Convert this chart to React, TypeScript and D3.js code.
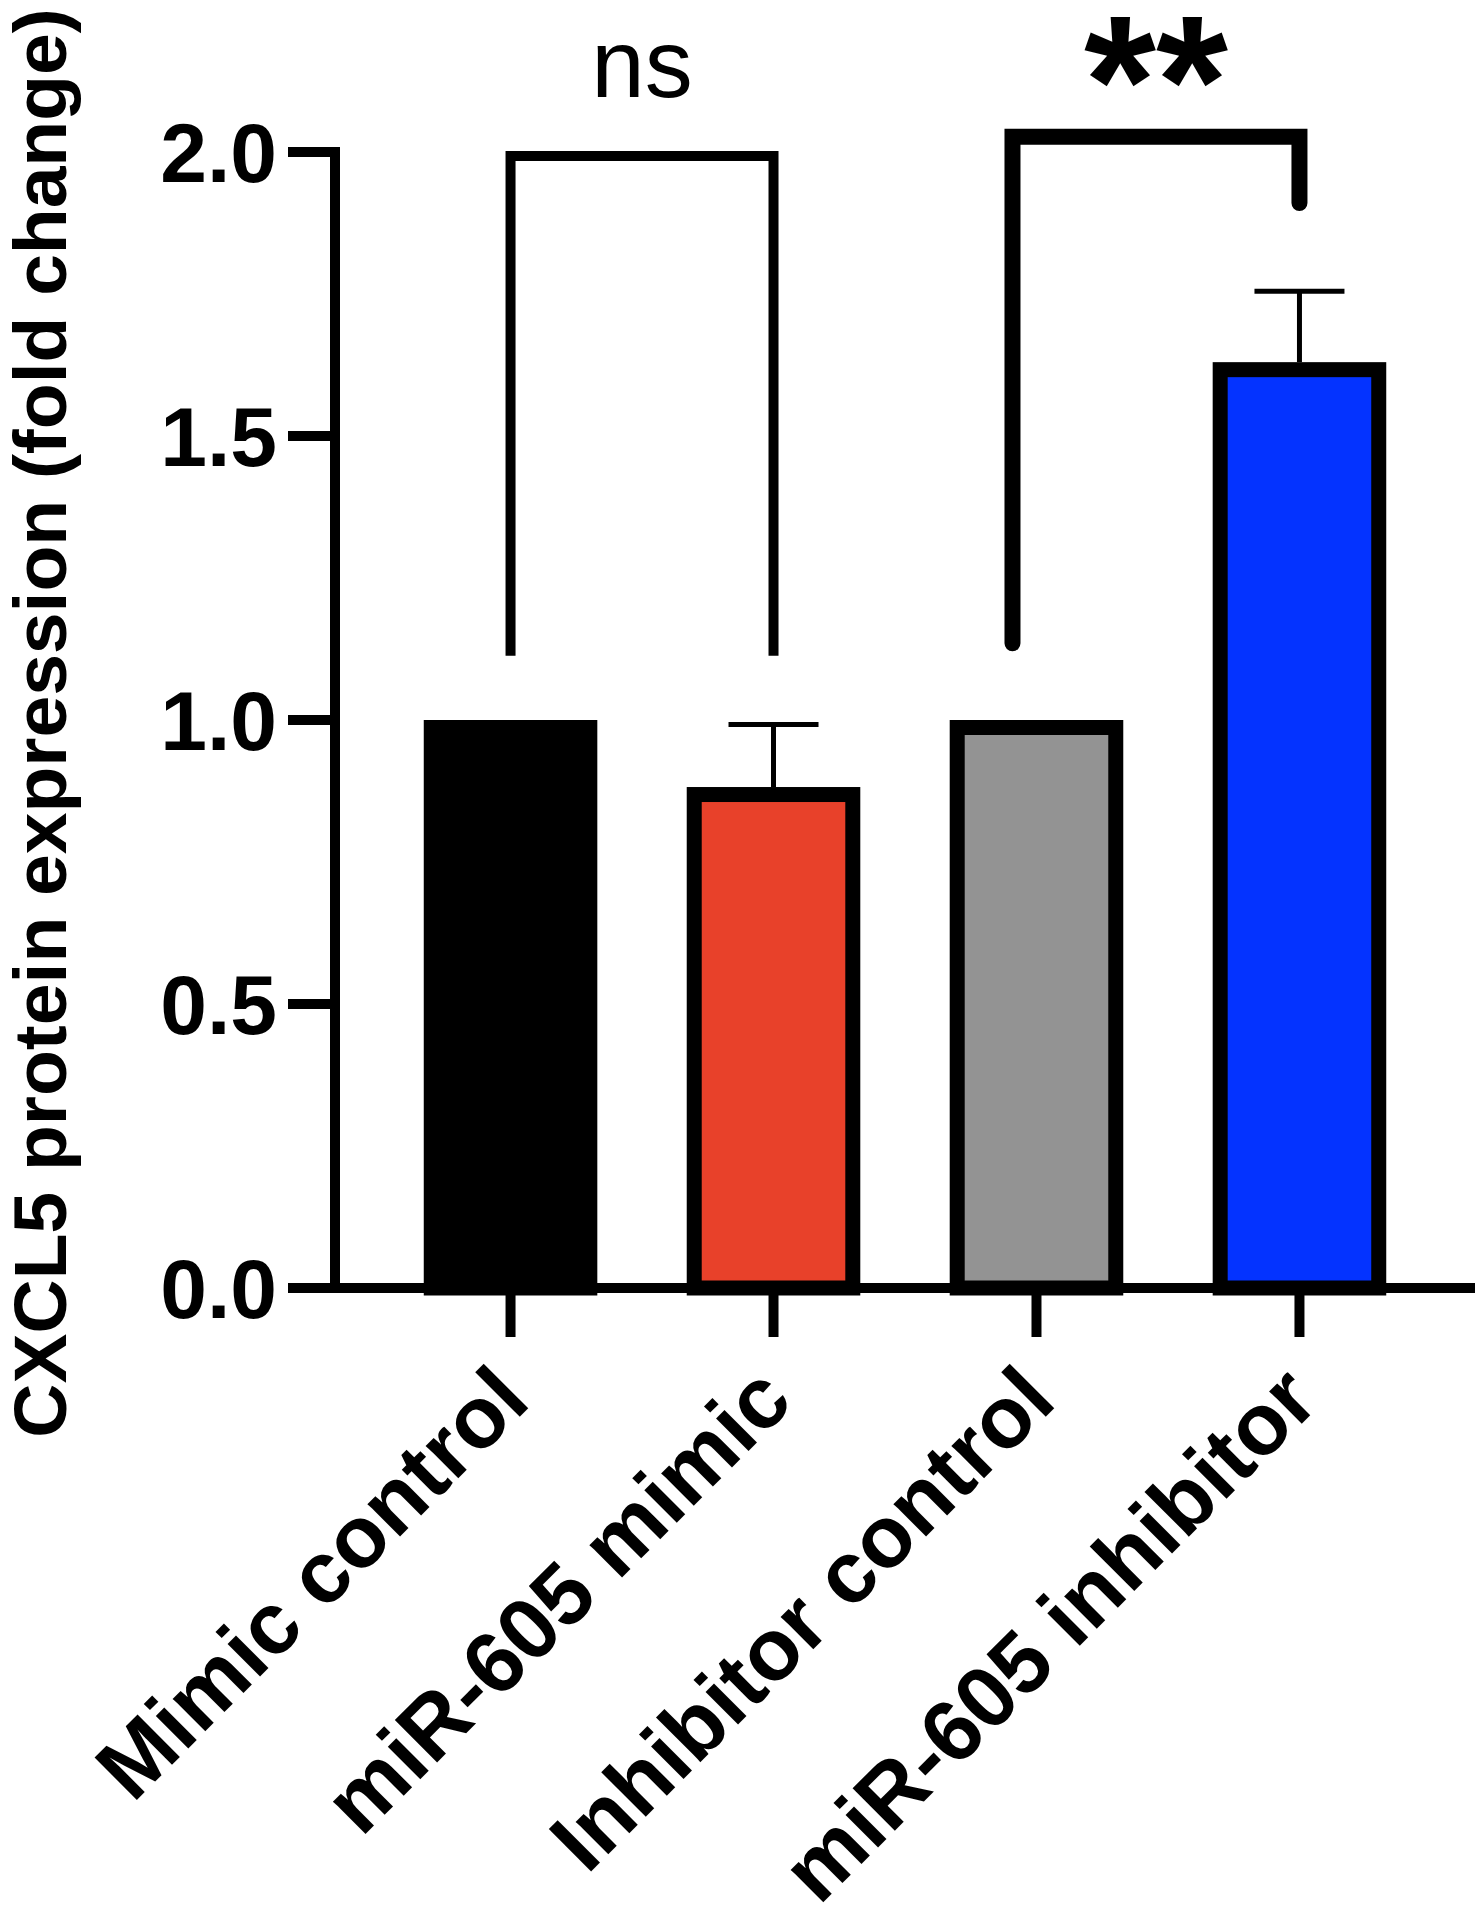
import * as d3 from 'd3';

const categories = ['Mimic control', 'miR-605 mimic', 'Inhibitor control', 'miR-605 inhibitor'];
const means = [1.0, 0.882, 1.0, 1.63];
const errors = [0, 0.11, 0, 0.125];
const barColors = ['#000000', '#E8412A', '#939393', '#0433FF'];
const yTicks = [0, 0.5, 1.0, 1.5, 2.0];
const yTitle = 'CXCL5 protein expression (fold change)';

// significance comparisons: [from, to], label, bracket top, left/right leg ends (data units)
const sigPairs = [[0, 1], [2, 3]];
const sigLabels = ['ns', '**'];
const sigTops = [1.993, 2.027];
const sigLegEnds = [[1.113, 1.113], [1.135, 1.91]];

const FONT = '"Liberation Sans", Arial, Helvetica, sans-serif';

export default function App() {
  const width = 1484;
  const height = 1920;
  const axisX = 335;
  const axisRight = 1475;

  const y = d3.scaleLinear().domain([0, 2]).range([1288, 152]);
  const x = d3
    .scaleBand<string>()
    .domain(categories)
    .range([axisX, axisRight])
    .paddingInner(0.34)
    .paddingOuter(0.3375);

  const bw = x.bandwidth();
  const border = 15;
  const y0 = y(0);

  return (
    <div style={{ position: 'absolute', left: 0, top: 0 }}>
      <svg width={width} height={height} style={{ display: 'block', background: '#fff' }} fontFamily={FONT}>
        {/* bars, border drawn inside the bar outline */}
        {categories.map((c, i) => {
          const x0 = x(c) ?? 0;
          const top = y(means[i]);
          return (
            <rect
              key={c}
              x={x0 + border / 2}
              y={top + border / 2}
              width={bw - border}
              height={y0 - top - border / 2}
              fill={barColors[i]}
              stroke="#000"
              strokeWidth={border}
            />
          );
        })}

        {/* error bars (upper only) */}
        {categories.map((c, i) => {
          if (!errors[i]) return null;
          const cx = (x(c) ?? 0) + bw / 2;
          const top = y(means[i]);
          const et = y(means[i] + errors[i]);
          return (
            <g key={`err-${c}`} stroke="#000" strokeWidth={5}>
              <line x1={cx} x2={cx} y1={top} y2={et} />
              <line x1={cx - 45} x2={cx + 45} y1={et} y2={et} />
            </g>
          );
        })}

        {/* y axis */}
        <line x1={axisX} x2={axisX} y1={y(2)} y2={y0} stroke="#000" strokeWidth={10} strokeLinecap="square" />
        {yTicks.map((t) => (
          <g key={`yt-${t}`}>
            <line x1={288} x2={axisX} y1={y(t)} y2={y(t)} stroke="#000" strokeWidth={10} />
            <text
              x={277}
              y={y(t)}
              dy="0.36em"
              textAnchor="end"
              fontSize={84}
              fontWeight="bold"
              fill="#000"
            >
              {t.toFixed(1)}
            </text>
          </g>
        ))}

        {/* x axis */}
        <line x1={axisX} x2={axisRight} y1={y0} y2={y0} stroke="#000" strokeWidth={10} />
        {categories.map((c) => {
          const cx = (x(c) ?? 0) + bw / 2;
          return (
            <g key={`xt-${c}`}>
              <line x1={cx} x2={cx} y1={y0} y2={y0 + 49} stroke="#000" strokeWidth={10} />
              <text
                transform={`translate(${cx + 22},${1404}) rotate(-45)`}
                textAnchor="end"
                fontSize={87}
                fontWeight="bold"
                fill="#000"
              >
                {c}
              </text>
            </g>
          );
        })}

        {/* y title */}
        <text
          transform={`translate(66,723) rotate(-90)`}
          textAnchor="middle"
          fontSize={75}
          fontWeight="bold"
          fill="#000"
        >
          {yTitle}
        </text>

        {/* significance brackets */}
        {sigPairs.map(([a, b], i) => {
          const xa = (x(categories[a]) ?? 0) + bw / 2 - (i === 1 ? 24 : 0);
          const xb = (x(categories[b]) ?? 0) + bw / 2;
          const top = y(sigTops[i]);
          const la = y(sigLegEnds[i][0]);
          const lb = y(sigLegEnds[i][1]);
          const thick = i === 1;
          return (
            <g key={`sig-${i}`}>
              <path
                d={`M${xa},${la} L${xa},${top} L${xb},${top} L${xb},${lb}`}
                fill="none"
                stroke="#000"
                strokeWidth={thick ? 16 : 10}
                strokeLinecap={thick ? 'round' : 'butt'}
                strokeLinejoin="miter"
              />
              <text
                x={(xa + xb) / 2}
                y={thick ? 145 : 97}
                textAnchor="middle"
                fontSize={thick ? 185 : 96}
                fontWeight={thick ? 'bold' : 'normal'}
                fill="#000"
              >
                {sigLabels[i]}
              </text>
            </g>
          );
        })}
      </svg>
    </div>
  );
}
